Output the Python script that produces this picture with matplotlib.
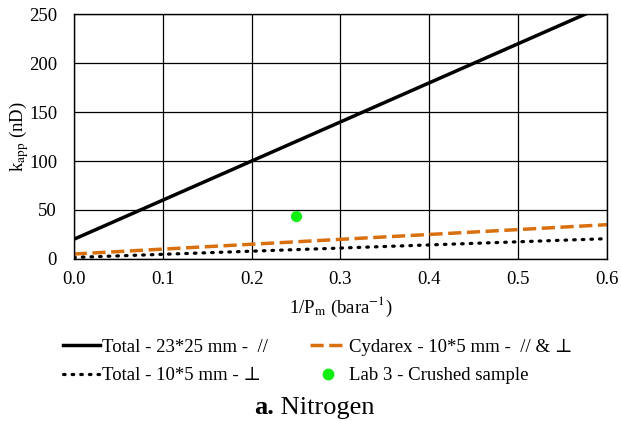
import matplotlib.pyplot as plt
from matplotlib.lines import Line2D

# trend lines, k_app (nD) vs 1/Pm (bara^-1)
inv_p = [0.0, 0.6]
total_23x25 = [20, 260]
cydarex_10x5 = [5, 35]
total_10x5 = [1.5, 20.7]

# single measured point
lab3_x = [0.25]
lab3_y = [44]

xticks = [0.0, 0.1, 0.2, 0.3, 0.4, 0.5, 0.6]
yticks = [0, 50, 100, 150, 200, 250]

plt.rcParams['font.family'] = ['Liberation Serif', 'DejaVu Serif']
plt.rcParams['mathtext.fontset'] = 'stix'
plt.rcParams['font.size'] = 13.5

fig = plt.figure(figsize=(6.21, 4.21), dpi=100)
ax = fig.add_axes([0.1187, 0.385, 0.859, 0.581])

orange = '#D9700F'
dots = (0, (0.5, 2.2))
ax.plot(inv_p, total_23x25, c='black', lw=2.5, solid_capstyle='butt')
ax.plot(inv_p, cydarex_10x5, c=orange, lw=2.5, dashes=(3.8, 1.6))
ax.plot(inv_p, total_10x5, c='black', lw=2.3, linestyle=dots,
        dash_capstyle='round')
ax.scatter(lab3_x, lab3_y, s=50, c='#11EE11', zorder=5)

ax.set_xlim(0, 0.6)
ax.set_ylim(0, 250)
ax.set_xticks(xticks)
ax.set_yticks(yticks)
ax.set_xticklabels([f'{t:.1f}' for t in xticks])
ax.grid(True, color='black', lw=0.9)
ax.set_axisbelow(True)
ax.tick_params(length=0, labelsize=13.5)
ax.tick_params(axis='x', pad=9)
ax.tick_params(axis='y', pad=12)
for s in ax.spines.values():
    s.set_color('black')
    s.set_linewidth(1)

ax.set_xlabel(r'1/P$_\mathrm{m}$ (bara$^{\mathrm{-1}}$)', fontsize=13.5, labelpad=5)
ax.set_ylabel(r'k$_\mathrm{app}$ (nD)', fontsize=13.5)
ax.yaxis.set_label_coords(-0.08, 0.5)

handles = [
    Line2D([], [], c='black', lw=2.5),
    Line2D([], [], c='black', lw=2.3, linestyle=dots, dash_capstyle='round'),
    Line2D([], [], c=orange, lw=2.5, dashes=(3.8, 1.6)),
    Line2D([], [], marker='o', ls='', c='#11EE11', markersize=7.5),
]
labels = [
    'Total - 23*25 mm -  //',
    'Total - 10*5 mm - \u22a5',
    'Cydarex - 10*5 mm -  // & \u22a5',
    'Lab 3 - Crushed sample',
]
fig.legend(handles, labels, ncol=2, loc='center left', bbox_to_anchor=(63 / 621, 0.141),
           frameon=False, fontsize=13.5, handlelength=1.95, handletextpad=0.15,
           columnspacing=2.2, labelspacing=0.6, borderpad=0, borderaxespad=0)

fig.text(0.441, 0.031, 'a.', fontsize=19, fontweight='bold', ha='right', va='center')
fig.text(0.441, 0.031, ' Nitrogen', fontsize=19, ha='left', va='center')

fig.savefig('out.png', dpi=100)
